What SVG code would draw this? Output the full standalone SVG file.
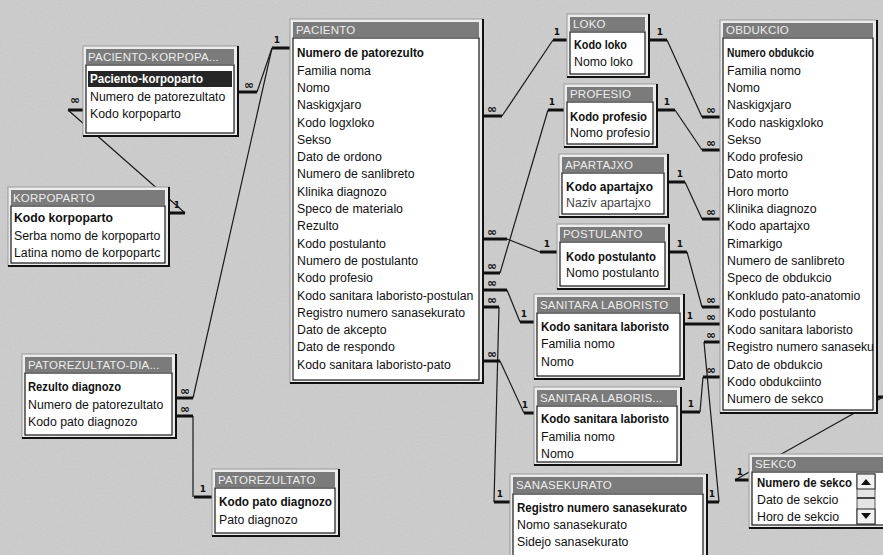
<svg xmlns="http://www.w3.org/2000/svg" width="883" height="555" viewBox="0 0 883 555">
<defs>
<filter id="grain" x="0" y="0" width="100%" height="100%">
<feTurbulence type="fractalNoise" baseFrequency="0.9" numOctaves="2" seed="4"/>
<feColorMatrix type="saturate" values="0"/>
</filter>
<style>
.fr{fill:#ececec;stroke:#9a9a9a;stroke-width:1}
.sh{fill:none;stroke:#111;stroke-width:2}
.tb{fill:#7b7b7b}
.bd{fill:#fff;stroke:#1a1a1a;stroke-width:1.2}
.tt{font-family:"Liberation Sans",Arial,sans-serif;font-size:11.5px;fill:#ededed;letter-spacing:0.2px}
.r{font-family:"Liberation Sans",Arial,sans-serif;font-size:12.3px;fill:#111}
.k{font-weight:bold}
.c{fill:none;stroke:#1a1a1a;stroke-width:1.2}
.s{fill:none;stroke:#111;stroke-width:3}
.one{font-family:"DejaVu Sans",sans-serif;font-size:9px;font-weight:bold;fill:#111;text-anchor:middle}
.inf{font-family:"DejaVu Sans",sans-serif;font-size:12px;font-weight:bold;fill:#111;text-anchor:middle}
</style>
</defs>
<rect width="883" height="555" fill="#cdcdcd"/>
<rect width="883" height="555" filter="url(#grain)" opacity="0.18"/>

<g id="connectors">
<!-- PACIENTO - PACIENTO-KORPOPA -->
<path class="s" d="M272 48H290"/><text class="one" x="277" y="43">1</text>
<path class="s" d="M238 92H257"/><text class="inf" x="249" y="89">∞</text>
<path class="c" d="M257 92L272 48"/>
<!-- PACIENTO - PATOREZULTATO-DIA -->
<path class="c" d="M193 398L272 48"/>
<path class="s" d="M176 398H193"/><text class="inf" x="185" y="395">∞</text>
<!-- PATOREZULTATO-DIA - PATOREZULTATO -->
<path class="s" d="M176 416H193"/><text class="inf" x="185" y="413">∞</text>
<path class="c" d="M193 416V497"/>
<path class="s" d="M194 497H212"/><text class="one" x="203" y="492">1</text>
<!-- PACIENTO-KORPOPA - KORPOPARTO -->
<path class="s" d="M68 110H83"/><text class="inf" x="75" y="104">∞</text>
<path class="c" d="M68 110L185 213"/>
<path class="s" d="M169 213H185"/><text class="one" x="177" y="208">1</text>
<!-- PACIENTO - LOKO -->
<path class="s" d="M483 116H502"/><text class="inf" x="492" y="113">∞</text>
<path class="c" d="M502 116L553 40"/>
<path class="s" d="M553 40H567"/><text class="one" x="557" y="35">1</text>
<!-- LOKO - OBDUKCIO -->
<path class="s" d="M649 40H667"/><text class="one" x="660" y="35">1</text>
<path class="c" d="M667 40L702 117"/>
<path class="s" d="M702 117H720"/><text class="inf" x="711" y="114">∞</text>
<!-- PACIENTO - PROFESIO -->
<path class="s" d="M483 273H500"/><text class="inf" x="492" y="270">∞</text>
<path class="c" d="M500 273L548 110"/>
<path class="s" d="M548 110H564"/><text class="one" x="552" y="105">1</text>
<!-- PROFESIO - OBDUKCIO -->
<path class="s" d="M657 110H675"/><text class="one" x="667" y="105">1</text>
<path class="c" d="M675 110L702 150"/>
<path class="s" d="M702 150H720"/><text class="inf" x="711" y="147">∞</text>
<!-- APARTAJXO - OBDUKCIO -->
<path class="s" d="M668 182H685"/><text class="one" x="680" y="177">1</text>
<path class="c" d="M685 182L702 219"/>
<path class="s" d="M702 219H720"/><text class="inf" x="711" y="216">∞</text>
<!-- PACIENTO - POSTULANTO -->
<path class="s" d="M483 239H507"/><text class="inf" x="492" y="236">∞</text>
<path class="c" d="M507 239L540 252"/>
<path class="s" d="M540 252H557"/><text class="one" x="547" y="247">1</text>
<!-- POSTULANTO - OBDUKCIO -->
<path class="s" d="M669 252H687"/><text class="one" x="680" y="247">1</text>
<path class="c" d="M687 252L702 307"/>
<path class="s" d="M702 307H720"/><text class="inf" x="711" y="304">∞</text>
<!-- PACIENTO - SANITARA LABORISTO -->
<path class="s" d="M483 290H507"/><text class="inf" x="492" y="287">∞</text>
<path class="c" d="M507 290L520 322"/>
<path class="s" d="M520 322H534"/><text class="one" x="524" y="317">1</text>
<!-- SANITARA LABORISTO - OBDUKCIO -->
<path class="s" d="M684 324H702"/><text class="one" x="690" y="319">1</text>
<path class="s" d="M702 324H720"/><text class="inf" x="711" y="321">∞</text>
<!-- PACIENTO - SANASEKURATO -->
<path class="s" d="M483 307H499"/><text class="inf" x="492" y="304">∞</text>
<path class="c" d="M499 307L494 502"/>
<path class="s" d="M494 502H510"/><text class="one" x="500" y="497">1</text>
<!-- SANASEKURATO - OBDUKCIO -->
<path class="s" d="M707 502H719"/><text class="one" x="712" y="497">1</text>
<path class="c" d="M719 502L704 342"/>
<path class="s" d="M704 342H720"/><text class="inf" x="711" y="339">∞</text>
<!-- PACIENTO - SANITARA LABORIS -->
<path class="s" d="M483 361H500"/><text class="inf" x="492" y="358">∞</text>
<path class="c" d="M500 361L524 413"/>
<path class="s" d="M524 413H534"/><text class="one" x="525" y="408">1</text>
<!-- SANITARA LABORIS - OBDUKCIO -->
<path class="s" d="M681 412H700"/><text class="one" x="691" y="407">1</text>
<path class="c" d="M700 412L703 377"/>
<path class="s" d="M703 377H720"/><text class="inf" x="711" y="374">∞</text>
<!-- OBDUKCIO - SEKCO -->
<path class="s" d="M877 397H883"/>
<path class="c" d="M883 397L735 480"/>
<path class="s" d="M735 480H749"/><text class="one" x="740" y="475">1</text>
</g>

<g id="paciento-korpopa">
<rect class="fr" x="83" y="46" width="155" height="90"/><path class="sh" d="M238 46V136H83"/>
<rect class="tb" x="86" y="49" width="148" height="15"/><text class="tt" x="88" y="61">PACIENTO-KORPOPA...</text>
<rect class="bd" x="86" y="65" width="148" height="68"/>
<rect x="88" y="71" width="144" height="16" fill="#262626"/>
<text class="r k" x="90" y="83" style="fill:#fff" textLength="113" lengthAdjust="spacingAndGlyphs">Paciento-korpoparto</text>
<text class="r" x="90" y="101">Numero de patorezultato</text>
<text class="r" x="90" y="118">Kodo korpoparto</text>
</g>

<g id="korpoparto">
<rect class="fr" x="8" y="187" width="161" height="79"/><path class="sh" d="M169 187V266H8"/>
<rect class="tb" x="11" y="190" width="154" height="15"/><text class="tt" x="13" y="202">KORPOPARTO</text>
<rect class="bd" x="11" y="206" width="154" height="57"/>
<text class="r k" x="14" y="222" textLength="99" lengthAdjust="spacingAndGlyphs">Kodo korpoparto</text>
<text class="r" x="14" y="240">Serba nomo de korpoparto</text>
<text class="r" x="14" y="257">Latina nomo de korpopartc</text>
</g>

<g id="patorezultato-dia">
<rect class="fr" x="22" y="354" width="154" height="84"/><path class="sh" d="M176 354V438H22"/>
<rect class="tb" x="25" y="357" width="147" height="15"/><text class="tt" x="28" y="369">PATOREZULTATO-DIA...</text>
<rect class="bd" x="25" y="373" width="147" height="62"/>
<text class="r k" x="28" y="391" textLength="93" lengthAdjust="spacingAndGlyphs">Rezulto diagnozo</text>
<text class="r" x="28" y="409">Numero de patorezultato</text>
<text class="r" x="28" y="426">Kodo pato diagnozo</text>
</g>

<g id="patorezultato">
<rect class="fr" x="212" y="469" width="127" height="67"/><path class="sh" d="M339 469V536H212"/>
<rect class="tb" x="215" y="472" width="120" height="15"/><text class="tt" x="218" y="484">PATOREZULTATO</text>
<rect class="bd" x="215" y="488" width="120" height="45"/>
<text class="r k" x="219" y="506" textLength="113" lengthAdjust="spacingAndGlyphs">Kodo pato diagnozo</text>
<text class="r" x="219" y="524">Pato diagnozo</text>
</g>

<g id="paciento">
<rect class="fr" x="290" y="19" width="193" height="364"/><path class="sh" d="M483 19V383H290"/>
<rect class="tb" x="293" y="22" width="186" height="15"/><text class="tt" x="296" y="34">PACIENTO</text>
<rect class="bd" x="293" y="38" width="186" height="342"/>
<text class="r k" x="297" y="57.3" textLength="127" lengthAdjust="spacingAndGlyphs">Numero de patorezulto</text>
<text class="r" x="297" y="74.6">Familia noma</text>
<text class="r" x="297" y="91.9">Nomo</text>
<text class="r" x="297" y="109.2">Naskigxjaro</text>
<text class="r" x="297" y="126.5">Kodo logxloko</text>
<text class="r" x="297" y="143.8">Sekso</text>
<text class="r" x="297" y="161.1">Dato de ordono</text>
<text class="r" x="297" y="178.4">Numero de sanlibreto</text>
<text class="r" x="297" y="195.7">Klinika diagnozo</text>
<text class="r" x="297" y="213">Speco de materialo</text>
<text class="r" x="297" y="230.3">Rezulto</text>
<text class="r" x="297" y="247.6">Kodo postulanto</text>
<text class="r" x="297" y="264.9">Numero de postulanto</text>
<text class="r" x="297" y="282.2">Kodo profesio</text>
<text class="r" x="297" y="299.5">Kodo sanitara laboristo-postulan</text>
<text class="r" x="297" y="316.8">Registro numero sanasekurato</text>
<text class="r" x="297" y="334.1">Dato de akcepto</text>
<text class="r" x="297" y="351.4">Dato de respondo</text>
<text class="r" x="297" y="368.7">Kodo sanitara laboristo-pato</text>
</g>

<g id="loko">
<rect class="fr" x="567" y="14" width="82" height="63"/><path class="sh" d="M649 14V77H567"/>
<rect class="tb" x="570" y="17" width="75" height="14"/><text class="tt" x="573" y="28">LOKO</text>
<rect class="bd" x="570" y="32" width="75" height="42"/>
<text class="r k" x="574" y="49" textLength="53" lengthAdjust="spacingAndGlyphs">Kodo loko</text>
<text class="r" x="574" y="66">Nomo loko</text>
</g>

<g id="profesio">
<rect class="fr" x="564" y="84" width="93" height="63"/><path class="sh" d="M657 84V147H564"/>
<rect class="tb" x="567" y="87" width="86" height="14"/><text class="tt" x="570" y="98">PROFESIO</text>
<rect class="bd" x="567" y="102" width="86" height="42"/>
<text class="r k" x="570" y="121" textLength="77" lengthAdjust="spacingAndGlyphs">Kodo profesio</text>
<text class="r" x="570" y="137">Nomo profesio</text>
</g>

<g id="apartajxo">
<rect class="fr" x="559" y="154" width="109" height="63"/><path class="sh" d="M668 154V217H559"/>
<rect class="tb" x="562" y="157" width="102" height="15"/><text class="tt" x="565" y="169">APARTAJXO</text>
<rect class="bd" x="562" y="173" width="102" height="41"/>
<text class="r k" x="566" y="191" textLength="87" lengthAdjust="spacingAndGlyphs">Kodo apartajxo</text>
<text class="r" x="566" y="207" style="fill:#444">Naziv apartajxo</text>
</g>

<g id="postulanto">
<rect class="fr" x="557" y="224" width="112" height="65"/><path class="sh" d="M669 224V289H557"/>
<rect class="tb" x="560" y="227" width="105" height="14"/><text class="tt" x="563" y="238">POSTULANTO</text>
<rect class="bd" x="560" y="242" width="105" height="44"/>
<text class="r k" x="566" y="261" textLength="90" lengthAdjust="spacingAndGlyphs">Kodo postulanto</text>
<text class="r" x="566" y="277">Nomo postulanto</text>
</g>

<g id="sanitara-laboristo">
<rect class="fr" x="534" y="294" width="150" height="85"/><path class="sh" d="M684 294V379H534"/>
<rect class="tb" x="537" y="297" width="143" height="15"/><text class="tt" x="540" y="309">SANITARA LABORISTO</text>
<rect class="bd" x="537" y="313" width="143" height="63"/>
<text class="r k" x="541" y="331" textLength="128" lengthAdjust="spacingAndGlyphs">Kodo sanitara laboristo</text>
<text class="r" x="541" y="348">Familia nomo</text>
<text class="r" x="541" y="366">Nomo</text>
</g>

<g id="sanitara-laboris">
<rect class="fr" x="534" y="387" width="147" height="78"/><path class="sh" d="M681 387V465H534"/>
<rect class="tb" x="537" y="390" width="140" height="15"/><text class="tt" x="540" y="402">SANITARA LABORIS...</text>
<rect class="bd" x="537" y="406" width="140" height="56"/>
<text class="r k" x="541" y="423" textLength="128" lengthAdjust="spacingAndGlyphs">Kodo sanitara laboristo</text>
<text class="r" x="541" y="441">Familia nomo</text>
<text class="r" x="541" y="458">Nomo</text>
</g>

<g id="sanasekurato">
<rect class="fr" x="510" y="474" width="197" height="95"/><path class="sh" d="M707 474V569"/>
<rect class="tb" x="513" y="477" width="190" height="16"/><text class="tt" x="516" y="489">SANASEKURATO</text>
<rect class="bd" x="513" y="494" width="190" height="70"/>
<text class="r k" x="517" y="512" textLength="170" lengthAdjust="spacingAndGlyphs">Registro numero sanasekurato</text>
<text class="r" x="517" y="529">Nomo sanasekurato</text>
<text class="r" x="517" y="546">Sidejo sanasekurato</text>
</g>

<g id="obdukcio">
<rect class="fr" x="720" y="20" width="157" height="393"/><path class="sh" d="M877 20V413H720"/>
<rect class="tb" x="723" y="23" width="150" height="14"/><text class="tt" x="726" y="34">OBDUKCIO</text>
<rect class="bd" x="723" y="38" width="150" height="372"/>
<text class="r k" x="727" y="57.3" textLength="87" lengthAdjust="spacingAndGlyphs">Numero obdukcio</text>
<text class="r" x="727" y="74.6">Familia nomo</text>
<text class="r" x="727" y="91.9">Nomo</text>
<text class="r" x="727" y="109.2">Naskigxjaro</text>
<text class="r" x="727" y="126.5">Kodo naskigxloko</text>
<text class="r" x="727" y="143.8">Sekso</text>
<text class="r" x="727" y="161.1">Kodo profesio</text>
<text class="r" x="727" y="178.4">Dato morto</text>
<text class="r" x="727" y="195.7">Horo morto</text>
<text class="r" x="727" y="213">Klinika diagnozo</text>
<text class="r" x="727" y="230.3">Kodo apartajxo</text>
<text class="r" x="727" y="247.6">Rimarkigo</text>
<text class="r" x="727" y="264.9">Numero de sanlibreto</text>
<text class="r" x="727" y="282.2">Speco de obdukcio</text>
<text class="r" x="727" y="299.5">Konkludo pato-anatomio</text>
<text class="r" x="727" y="316.8">Kodo postulanto</text>
<text class="r" x="727" y="334.1">Kodo sanitara laboristo</text>
<text class="r" x="727" y="351.4">Registro numero sanaseku</text>
<text class="r" x="727" y="368.7">Dato de obdukcio</text>
<text class="r" x="727" y="386">Kodo obdukciinto</text>
<text class="r" x="727" y="403.3">Numero de sekco</text>
</g>

<g id="sekco">
<rect class="fr" x="749" y="454" width="136" height="74"/><path class="sh" d="M749 528H885"/>
<rect class="tb" x="752" y="457" width="133" height="14"/><text class="tt" x="755" y="468">SEKCO</text>
<rect class="bd" x="752" y="472" width="133" height="53"/>
<text class="r k" x="757" y="487" textLength="95" lengthAdjust="spacingAndGlyphs">Numero de sekco</text>
<text class="r" x="757" y="504">Dato de sekcio</text>
<text class="r" x="757" y="521">Horo de sekcio</text>
<rect x="857" y="474" width="18" height="50" fill="#e4e4e4" stroke="#333" stroke-width="0.8"/>
<rect x="857" y="474" width="18" height="15" fill="#f2f2f2" stroke="#222" stroke-width="1"/>
<polygon points="861,485 866,479 871,485" fill="#111"/>
<path d="M857 498H875" stroke="#111" stroke-width="1.5"/>
<rect x="857" y="509" width="18" height="15" fill="#f2f2f2" stroke="#222" stroke-width="1"/>
<polygon points="861,513 871,513 866,519" fill="#111"/>
</g>
</svg>
